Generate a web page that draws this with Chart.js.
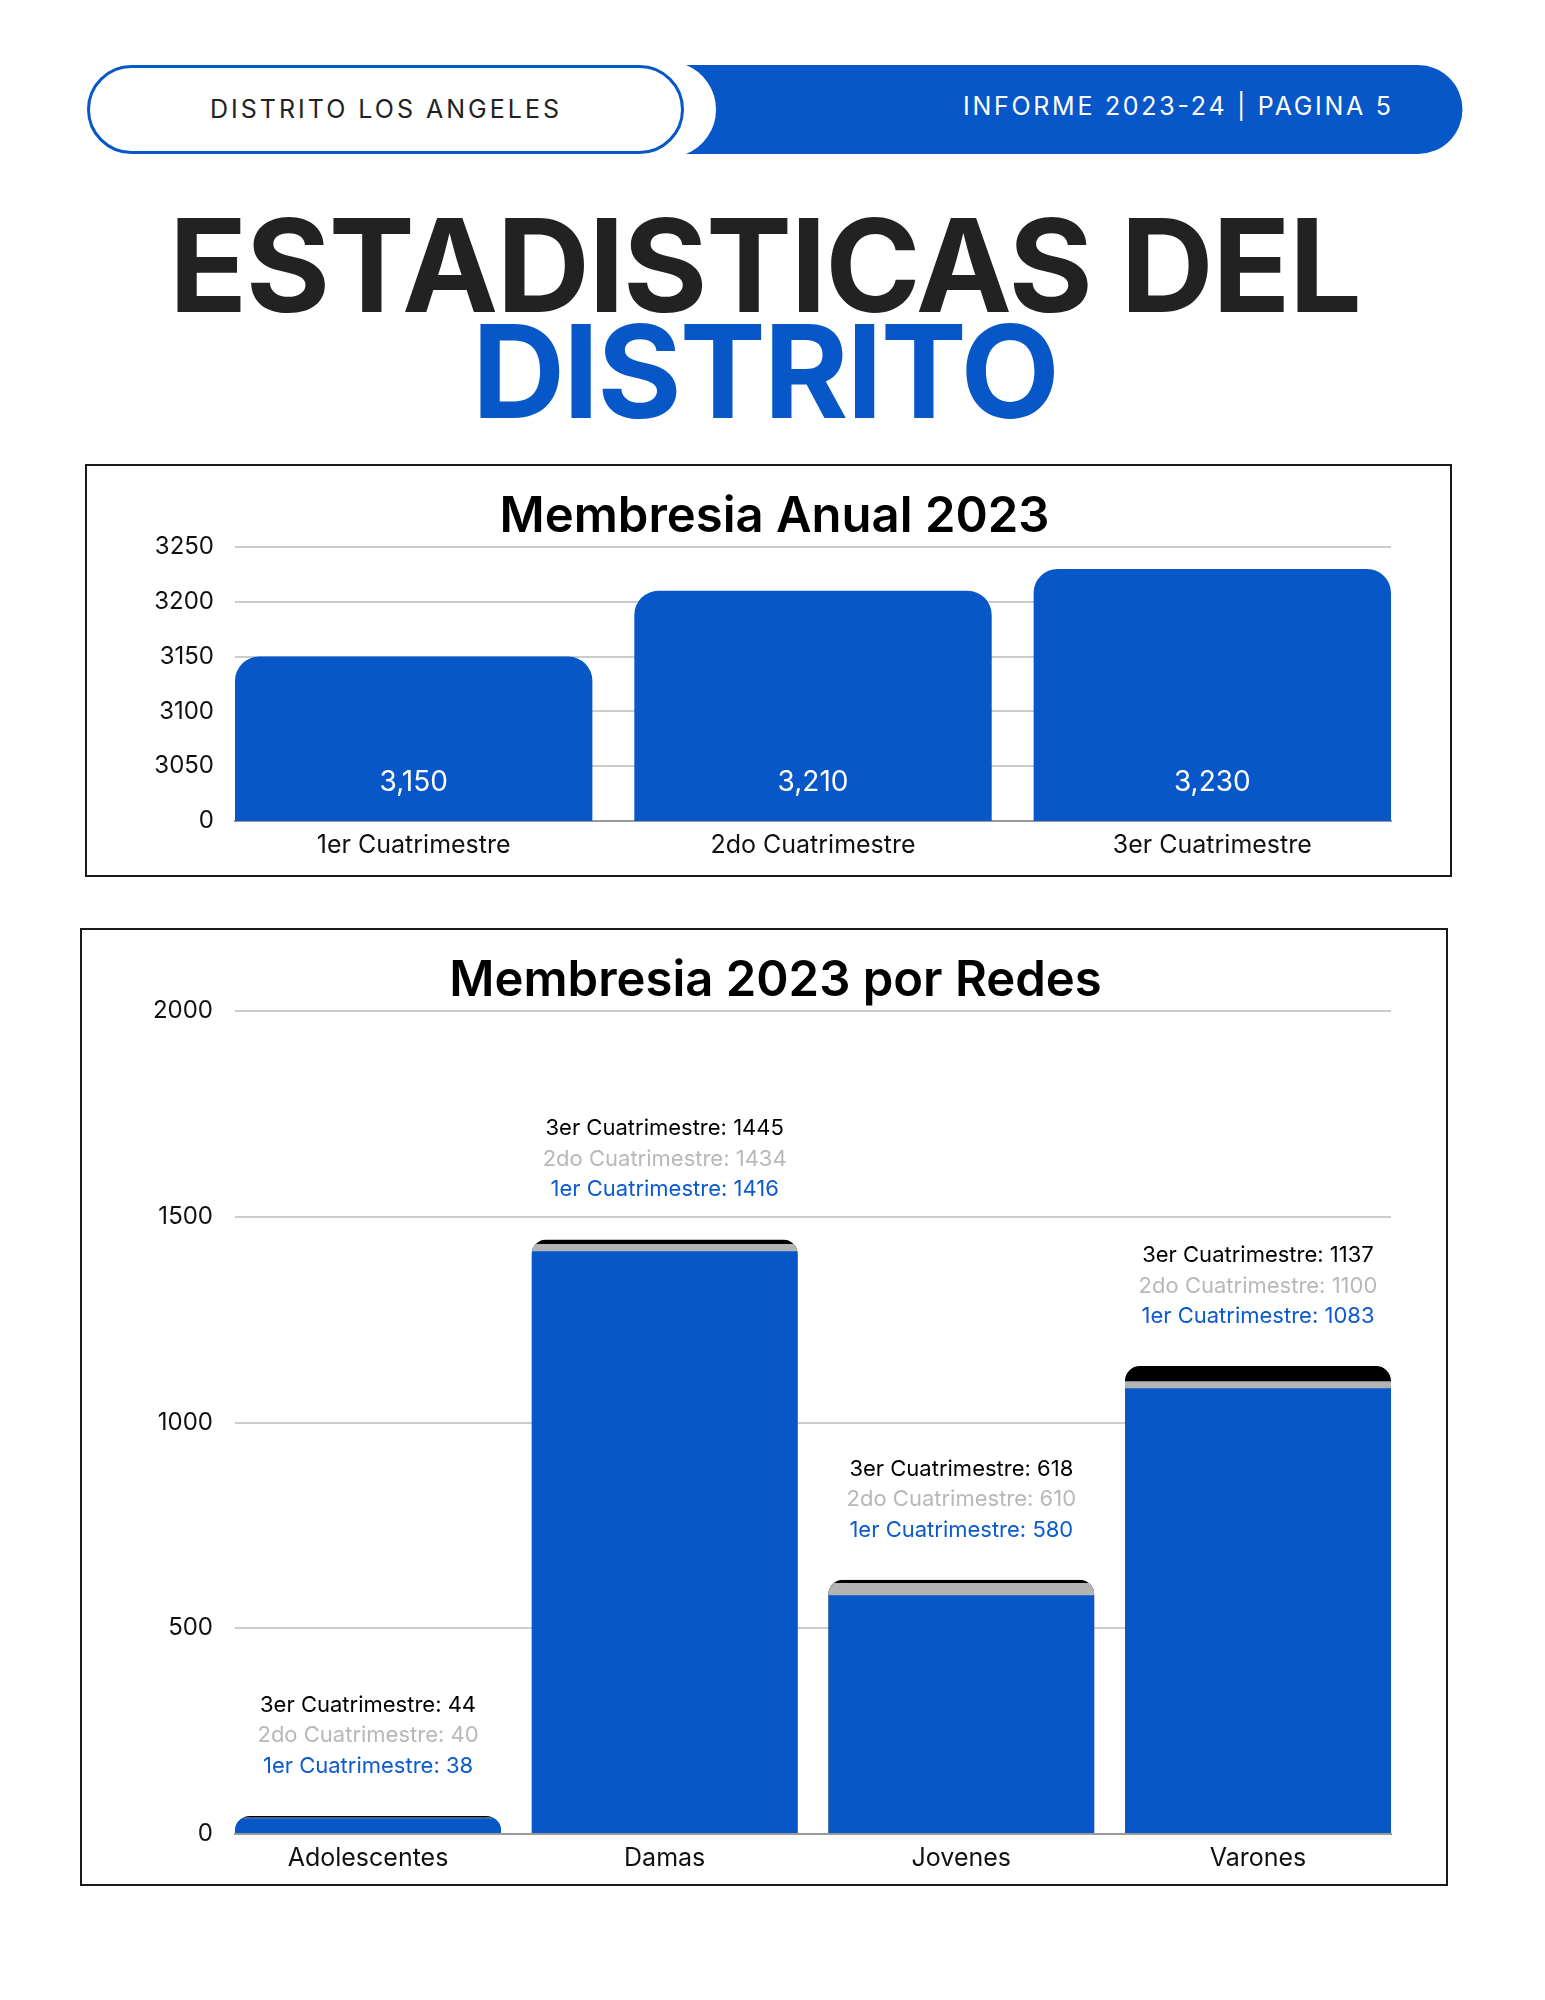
<!DOCTYPE html>
<html>
<head>
<meta charset="utf-8">
<script src="https://cdn.jsdelivr.net/npm/chart.js@4.4.1/dist/chart.umd.min.js"></script>
<style>
html,body{margin:0;padding:0;background:#fff;}
body{width:1545px;height:2000px;position:relative;overflow:hidden;font-family:Inter,"Noto Sans",sans-serif;}
#header{position:absolute;left:0;top:0;}
.box{position:absolute;border:2px solid #1a1a1a;box-sizing:border-box;background:#fff;}
.inner{position:relative;width:100%;height:100%;}
</style>
</head>
<body>
<svg id="header" width="1545" height="440" xmlns="http://www.w3.org/2000/svg" font-family="Inter, 'Noto Sans', sans-serif">
  <rect x="88.5" y="66.5" width="594" height="86" rx="43" ry="43" fill="#fff" stroke="#0757C8" stroke-width="3"/>
  <path d="M686 65 H1418 A44.5 44.5 0 0 1 1418 154 H686 A48 48 0 0 0 686 65 Z" fill="#0757C8"/>
  <text x="210" y="118" font-size="25" fill="#222" textLength="349" lengthAdjust="spacing">DISTRITO LOS ANGELES</text>
  <text x="963" y="115" font-size="25" fill="#fff" textLength="428" lengthAdjust="spacing">INFORME 2023-24 | PAGINA 5</text>
  <text x="169" y="312" font-size="129" font-weight="700" fill="#222" textLength="1193" lengthAdjust="spacing">ESTADISTICAS DEL</text>
  <text x="472" y="418" font-size="129" font-weight="700" fill="#0757C8" textLength="588" lengthAdjust="spacing">DISTRITO</text>
</svg>

<div class="box" style="left:85px;top:464px;width:1367px;height:413px;">
  <div class="inner"><canvas id="c1"></canvas></div>
</div>
<div class="box" style="left:80px;top:928px;width:1368px;height:958px;">
  <div class="inner"><canvas id="c2"></canvas></div>
</div>

<script>
// ---------- DATA ----------
const TRIMESTRES = ['1er Cuatrimestre', '2do Cuatrimestre', '3er Cuatrimestre'];
const MEMBRESIA_ANUAL = [3150, 3210, 3230];
const Y1_TICK_LABELS = ['0', '3050', '3100', '3150', '3200', '3250'];

const REDES = ['Adolescentes', 'Damas', 'Jovenes', 'Varones'];
const CUATRI_1 = [38, 1416, 580, 1083];
const CUATRI_2 = [40, 1434, 610, 1100];
const CUATRI_3 = [44, 1445, 618, 1137];
const SERIES_NAMES = ['1er Cuatrimestre', '2do Cuatrimestre', '3er Cuatrimestre'];
const Y2_TICK_LABELS = ['0', '500', '1000', '1500', '2000'];

// ---------- STYLE ----------
const BLUE = '#0757C8';
const GRAY = '#B3B3B3';
const BLACK = '#000000';
const FONT = 'Inter';
Chart.defaults.font.family = FONT;
Chart.defaults.color = '#111';

const BP1 = 0.895;
const BP2 = 0.897;

function xAxis(cats, bp, height, pad) {
  return {
    type: 'linear',
    bounds: 'data',
    offset: false,
    min: -bp / 2,
    max: cats.length - 1 + bp / 2,
    afterBuildTicks: s => { s.ticks = cats.map((_, i) => ({ value: i })); },
    afterFit: s => { s.height = height; },
    grid: { display: false, drawTicks: false, offset: false },
    border: { display: true, color: '#9a9a9a', width: 2 },
    ticks: {
      autoSkip: false, maxRotation: 0, minRotation: 0, padding: pad,
      color: '#111', font: { size: 25, family: FONT },
      callback: v => cats[v]
    }
  };
}

function spacerAxis(width) {
  return {
    position: 'right',
    display: true,
    afterFit: s => { s.width = width; },
    grid: { display: false, drawTicks: false },
    border: { display: false },
    ticks: { display: false }
  };
}

// ---------- CHART 1 ----------
const valueLabels = {
  id: 'valueLabels',
  afterDatasetsDraw(chart) {
    const ctx = chart.ctx;
    const meta = chart.getDatasetMeta(0);
    const bottom = chart.chartArea.bottom;
    ctx.save();
    ctx.fillStyle = '#fff';
    ctx.font = '400 28px ' + FONT;
    ctx.textAlign = 'center';
    ctx.textBaseline = 'middle';
    meta.data.forEach((el, i) => {
      ctx.fillText(MEMBRESIA_ANUAL[i].toLocaleString('en-US'), el.x, Math.min(el.base, bottom) - 38);
    });
    ctx.restore();
  }
};

new Chart(document.getElementById('c1'), {
  type: 'bar',
  data: {
    datasets: [{
      label: 'Membresia',
      data: MEMBRESIA_ANUAL.map((v, i) => ({ x: i, y: v })),
      backgroundColor: BLUE,
      borderRadius: { topLeft: 24, topRight: 24, bottomLeft: 0, bottomRight: 0 },
      borderSkipped: false,
      barPercentage: BP1,
      categoryPercentage: 1
    }]
  },
  options: {
    responsive: true,
    maintainAspectRatio: false,
    animation: false,
    layout: { padding: { left: 12, right: 0, top: 0, bottom: 0 } },
    plugins: {
      legend: { display: false },
      tooltip: { enabled: false },
      title: {
        display: true,
        text: 'Membresia Anual 2023',
        color: '#000',
        font: { size: 49, weight: '600', family: FONT, lineHeight: 1.2 },
        padding: { top: 22, bottom: 0.2 }
      }
    },
    scales: {
      x: xAxis(TRIMESTRES, BP1, 54, 9),
      y: {
        min: 3000, max: 3250,
        afterFit: s => { s.width = 136; },
        grid: { color: '#cccccc', lineWidth: 2, drawTicks: false },
        border: { display: false },
        ticks: {
          stepSize: 50, padding: 21, color: '#111',
          font: { size: 24, family: FONT },
          callback: (v, i) => Y1_TICK_LABELS[i]
        }
      },
      yRight: spacerAxis(59)
    }
  },
  plugins: [valueLabels]
});

// ---------- CHART 2 ----------
const groupClipAndLabels = {
  id: 'groupClipAndLabels',
  _tops(chart) {
    const metas = chart.getSortedVisibleDatasetMetas();
    return REDES.map((_, i) => {
      let top = Infinity, el0 = null;
      metas.forEach(m => {
        const el = m.data[i];
        if (el.y < top) top = el.y;
        el0 = el;
      });
      return { top, x: el0.x, width: el0.width, base: el0.base };
    });
  },
  beforeDatasetsDraw(chart) {
    const ctx = chart.ctx;
    ctx.save();
    ctx.beginPath();
    this._tops(chart).forEach(g => {
      const h = g.base - g.top;
      const r = Math.min(15, g.width / 2, h);
      ctx.roundRect(g.x - g.width / 2, g.top, g.width, h, [r, r, 0, 0]);
    });
    ctx.clip();
  },
  afterDatasetsDraw(chart) {
    const ctx = chart.ctx;
    ctx.restore();
    ctx.save();
    ctx.font = '400 22px ' + FONT;
    ctx.textAlign = 'center';
    ctx.textBaseline = 'alphabetic';
    const rows = [
      [SERIES_NAMES[2], CUATRI_3, '#000000'],
      [SERIES_NAMES[1], CUATRI_2, '#B8B8B8'],
      [SERIES_NAMES[0], CUATRI_1, '#0B5AD0']
    ];
    this._tops(chart).forEach((g, i) => {
      rows.forEach((r, k) => {
        ctx.fillStyle = r[2];
        ctx.fillText(r[0] + ': ' + r[1][i], g.x, g.top - 43 - 30.5 * (2 - k));
      });
    });
    ctx.restore();
  }
};

function ds(label, values, color, order) {
  return {
    label,
    data: values.map((v, i) => ({ x: i, y: v })),
    backgroundColor: color,
    borderWidth: 0,
    borderRadius: 0,
    grouped: false,
    order,
    barPercentage: BP2,
    categoryPercentage: 1
  };
}

new Chart(document.getElementById('c2'), {
  type: 'bar',
  data: {
    datasets: [
      ds(SERIES_NAMES[0], CUATRI_1, BLUE, 0),
      ds(SERIES_NAMES[1], CUATRI_2, GRAY, 1),
      ds(SERIES_NAMES[2], CUATRI_3, BLACK, 2)
    ]
  },
  options: {
    responsive: true,
    maintainAspectRatio: false,
    animation: false,
    layout: { padding: { left: 23, right: 0, top: 0, bottom: 0 } },
    plugins: {
      legend: { display: false },
      tooltip: { enabled: false },
      title: {
        display: true,
        text: 'Membresia 2023 por Redes',
        color: '#000',
        font: { size: 49, weight: '600', family: FONT, lineHeight: 1.2 },
        padding: { top: 22, bottom: 0.2 }
      }
    },
    scales: {
      x: xAxis(REDES, BP2, 50, 9),
      y: {
        min: 0, max: 2000,
        afterFit: s => { s.width = 130; },
        grid: { color: '#cccccc', lineWidth: 2, drawTicks: false },
        border: { display: false },
        ticks: {
          stepSize: 500, padding: 22, color: '#111',
          font: { size: 24, family: FONT },
          callback: (v, i) => Y2_TICK_LABELS[i]
        }
      },
      yRight: spacerAxis(55)
    }
  },
  plugins: [groupClipAndLabels]
});
</script>
</body>
</html>
